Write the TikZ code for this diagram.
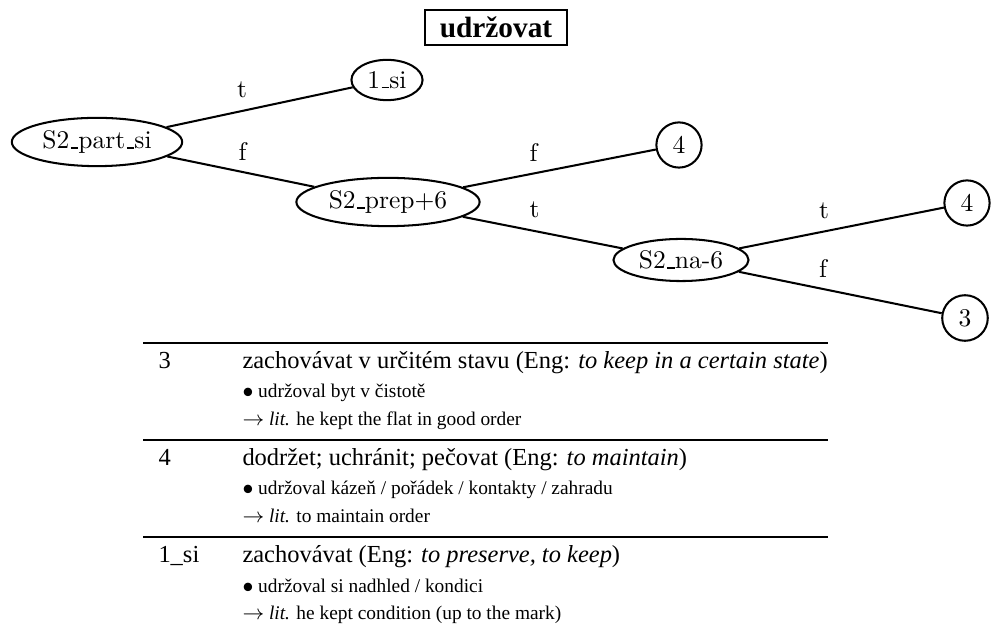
\documentclass[tikz,border=0pt]{standalone}
\usepackage{fontspec}
\newfontfamily\glossfont{Liberation Serif}
\usetikzlibrary{shapes.geometric}
% classic low underscore bar used in the tree labels
\newcommand\lowbar{\kern.06em\vbox{\hrule height .5pt width .3em}}

\begin{document}
\begin{tikzpicture}[x=0.3922pt,y=-0.3922pt,
  every node/.style={font=\fontsize{10}{12}\selectfont},
  test/.style={ellipse,draw,line width=0.8pt,inner sep=2.2pt},
  leaf/.style={circle,draw,line width=0.8pt},
  edge/.style={line width=0.8pt},
  lbl/.style={midway,yshift=8.2pt,inner sep=0pt},
  title/.style={draw,line width=0.6pt,inner sep=0pt,minimum width=55.7pt,minimum height=13.7pt,
    font=\glossfont\bfseries\fontsize{11.5}{13}\selectfont},
  keycell/.style={anchor=base west,inner sep=0pt,font=\glossfont\fontsize{9.6}{12}\selectfont},
  gloss/.style={anchor=base west,inner sep=0pt,font=\glossfont\fontsize{9.6}{12}\selectfont},
  example/.style={anchor=base west,inner sep=0pt,font=\glossfont\fontsize{7.6}{10}\selectfont},
  toprule/.style={line width=0.6pt},
  midrule/.style={line width=0.45pt}]
\useasboundingbox (0,0) rectangle (992,633);

% heading
\node[title] (head) at (496,27.5) {udržovat};

% decision tree
\node[test] (part) at (97,142) {S2\lowbar part\lowbar si};
\node[test] (si)   at (387,80) {1\lowbar si};
\node[test] (prep) at (388,202) {S2\lowbar prep+6};
\node[leaf] (fa)   at (679,145) {4};
\node[test] (na)   at (681,260) {S2\lowbar na-6};
\node[leaf] (fb)   at (967,203) {4};
\node[leaf] (fc)   at (965,318) {3};

\draw[edge] (part) -- (si);
\draw[edge] (part) -- (prep);
\draw[edge] (prep) -- (fa);
\draw[edge] (prep) -- (na);
\draw[edge] (na) -- (fb);
\draw[edge] (na) -- (fc);

\path (part.center) -- node[lbl] (l1) {t} (si.center);
\path (part.center) -- node[lbl] (l2) {f} (prep.center);
\path (prep.center) -- node[lbl] (l3) {f} (fa.center);
\path (prep.center) -- node[lbl] (l4) {t} (na.center);
\path (na.center)   -- node[lbl] (l5) {t} (fb.center);
\path (na.center)   -- node[lbl] (l6) {f} (fc.center);

% sense table
\node[keycell] (k3) at (158,369) {3};
\node[gloss]   (g3) at (242,369) {zachovávat v určitém stavu (Eng: \textit{to keep in a certain state})};
\node[example] (e3) at (242,398) {$\bullet$ udržoval byt v čistotě};
\node[example] (t3) at (242,426) {$\rightarrow$ \textit{lit.} he kept the flat in good order};

\node[keycell] (k4) at (158,466) {4};
\node[gloss]   (g4) at (242,466) {dodržet; uchránit; pečovat (Eng: \textit{to maintain})};
\node[example] (e4) at (242,495) {$\bullet$ udržoval kázeň / pořádek / kontakty / zahradu};
\node[example] (t4) at (242,523) {$\rightarrow$ \textit{lit.} to maintain order};

\node[keycell] (k1) at (158,563) {1\_si};
\node[gloss]   (g1) at (242,563) {zachovávat (Eng: \textit{to preserve, to keep})};
\node[example] (e1) at (242,593) {$\bullet$ udržoval si nadhled / kondici};
\node[example] (t1) at (242,620) {$\rightarrow$ \textit{lit.} he kept condition (up to the mark)};

% table rules, as wide as the longest gloss
\coordinate (r0) at (143,343);
\coordinate (r1) at (143,440);
\coordinate (r2) at (143,537);
\draw[toprule] (r0) -- (r0 -| g3.east);
\draw[midrule] (r1) -- (r1 -| g3.east);
\draw[midrule] (r2) -- (r2 -| g3.east);
\end{tikzpicture}
\end{document}
